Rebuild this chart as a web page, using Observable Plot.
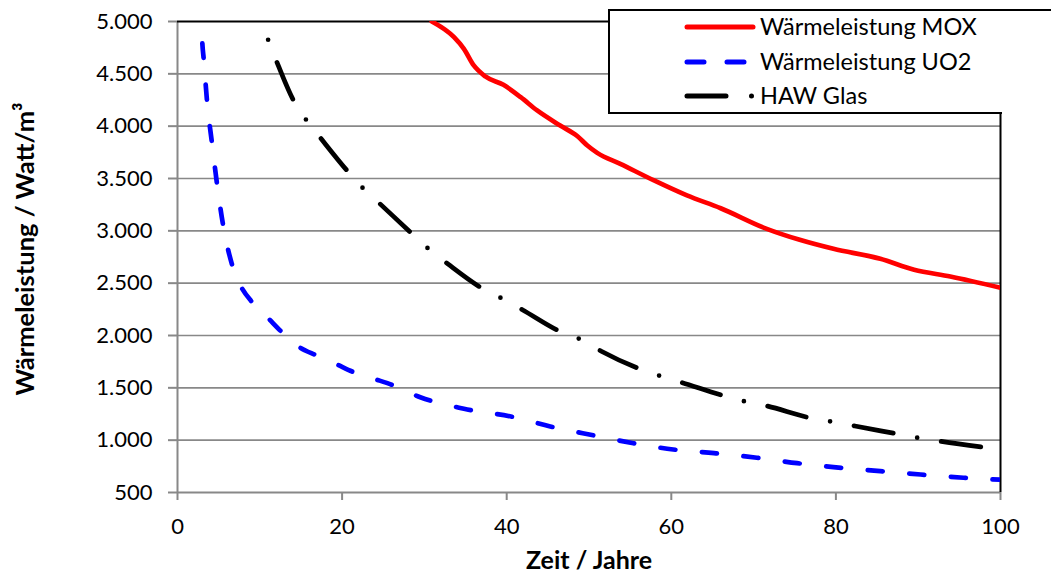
<!DOCTYPE html>
<html>
<head>
<meta charset="utf-8">
<script src="https://cdn.jsdelivr.net/npm/d3@7"></script>
<script src="https://cdn.jsdelivr.net/npm/@observablehq/plot@0.6"></script>
<style>
  html, body { margin: 0; padding: 0; background: #fff; }
  #chart { position: relative; width: 1051px; height: 574px; background: #fff; overflow: hidden; }
  #legend { position: absolute; left: 608px; top: 9px; width: 392px; height: 101px;
            border-left: 2px solid #000; border-top: 2px solid #000; border-bottom: 2px solid #000; background: #fff; }
  #legendTop { position: absolute; left: 1000px; top: 9px; width: 60px; height: 0; border-top: 2px solid #000; }
</style>
</head>
<body>
<div id="chart"></div>
<script>
// ---- Data ----
const serien = ["Wärmeleistung MOX", "Wärmeleistung UO2", "HAW Glas"];
const farben = ["#ff0000", "#0000ff", "#000000"];

const jahreMOX = [30.9, 33.6, 34.8, 36.0, 37.4, 39.6, 41.7, 43.7, 46.5, 48.6, 49.8, 51.0, 53.8, 57.9, 61.9, 66.0, 71.6, 75.6, 79.7, 85.4, 89.5, 93.9, 100];
const wertMOX  = [5000, 4850, 4739, 4580, 4475, 4395, 4277, 4150, 4006, 3904, 3815, 3745, 3640, 3481, 3338, 3216, 3019, 2914, 2828, 2733, 2628, 2564, 2456];

const jahreUO2 = [2.9, 3.0, 3.2, 3.6, 4.2, 4.8, 5.55, 6.6, 7.65, 9.07, 10.9, 12.7, 14.5, 16.9, 19.2, 21.4, 23.9, 26.3, 29.5, 34.8, 40.9, 45.3, 50.6, 55.4, 59.5, 65.2, 70.4, 75.3, 79.7, 85.4, 90.3, 95.5, 100];
const wertUO2  = [5000, 4818, 4627, 4229, 3831, 3449, 3051, 2685, 2478, 2318, 2175, 2031, 1905, 1809, 1730, 1650, 1586, 1522, 1410, 1300, 1220, 1131, 1045, 971, 918, 876, 832, 780, 742, 704, 672, 641, 622];

const jahreHAW = [10.2, 11.0, 12.0, 14.1, 15.6, 17.4, 20.6, 22.5, 24.6, 28.3, 30.6, 32.8, 37.1, 39.5, 41.9, 46.5, 49.1, 51.5, 56.2, 58.8, 61.3, 66.3, 69.0, 71.6, 76.7, 79.5, 82.3, 87.3, 90.1, 92.8, 98.0, 100];
const wertHAW  = [5000, 4828, 4627, 4245, 4064, 3885, 3576, 3411, 3258, 2987, 2821, 2687, 2447, 2351, 2246, 2038, 1958, 1850, 1680, 1610, 1550, 1426, 1369, 1327, 1216, 1177, 1135, 1062, 1021, 988, 932, 912];

const xTicks = [0, 20, 40, 60, 80, 100];
const xTickLabels = ["0", "20", "40", "60", "80", "100"];
const yTicks = [500, 1000, 1500, 2000, 2500, 3000, 3500, 4000, 4500, 5000];
const yTickLabels = ["500", "1.000", "1.500", "2.000", "2.500", "3.000", "3.500", "4.000", "4.500", "5.000"];

const xTitel = "Zeit / Jahre";
const yTitel = "Wärmeleistung / Watt/m³";

// ---- Tables ----
const rows = (xs, ys, s) => xs.map((x, i) => ({serie: s, jahr: x, wert: ys[i]}));
const datMOX = rows(jahreMOX, wertMOX, serien[0]);
const datUO2 = rows(jahreUO2, wertUO2, serien[1]);
const datHAW = rows(jahreHAW, wertHAW, serien[2]);

const grau = "#888888";

const plot = Plot.plot({
  width: 1051,
  height: 574,
  marginLeft: 177,
  marginRight: 51,
  marginTop: 21,
  marginBottom: 82,
  style: {fontFamily: "Lato, sans-serif", fontSize: "22px", color: "#000", background: "#fff"},
  x: {domain: [0, 100]},
  y: {domain: [500, 5000]},
  marks: [
    Plot.ruleY(yTicks.filter(v => v > 500 && v < 5000), {stroke: grau, strokeWidth: 1.6}),
    Plot.ruleX([0], {stroke: grau, strokeWidth: 2}),
    Plot.ruleY([500], {stroke: grau, strokeWidth: 2}),
    Plot.ruleY([5000], {stroke: "#000", strokeWidth: 2}),
    Plot.ruleX([100], {stroke: "#000", strokeWidth: 2}),
    Plot.axisX({ticks: xTicks, tickFormat: d => xTickLabels[xTicks.indexOf(d)], tickSize: 8, tickPadding: 18,
                stroke: grau, strokeWidth: 2, fill: "#000", label: null, fontSize: 22}),
    Plot.axisY({ticks: yTicks, tickFormat: d => yTickLabels[yTicks.indexOf(d)], tickSize: 9, tickPadding: 16,
                stroke: grau, strokeWidth: 2, fill: "#000", label: null, fontSize: 22}),
    Plot.line(datUO2, {x: "jahr", y: "wert", stroke: farben[1], strokeWidth: 4.7, curve: "monotone-x",
                       strokeDasharray: "15,26.7", strokeDashoffset: 20.2, strokeLinecap: "round", clip: true}),
    Plot.line(datHAW, {x: "jahr", y: "wert", stroke: farben[2], strokeWidth: 4.7, curve: "monotone-x",
                       strokeDasharray: "40,24.3,0,24.3", strokeDashoffset: 44.9, strokeLinecap: "round", clip: true}),
    Plot.line(datMOX, {x: "jahr", y: "wert", stroke: farben[0], strokeWidth: 4.7, curve: "monotone-x",
                       strokeLinecap: "round", clip: true}),
    Plot.text([xTitel], {frameAnchor: "bottom", dy: 68, lineAnchor: "middle", textAnchor: "middle",
                         fontWeight: "bold", fontSize: 25, fill: "#000"}),
    Plot.text([yTitel], {frameAnchor: "left", dx: -152, dy: -8, rotate: -90, lineAnchor: "middle", textAnchor: "middle",
                         fontWeight: "bold", fontSize: 25.5, fill: "#000"})
  ]
});

const chart = document.getElementById("chart");
chart.appendChild(plot);

// ---- Legend ----
const leg = document.createElement("div");
leg.id = "legend";
chart.appendChild(leg);
const legTop = document.createElement("div");
legTop.id = "legendTop";
chart.appendChild(legTop);

const lsvg = d3.select(leg).append("svg")
  .attr("width", 392).attr("height", 101)
  .style("position", "absolute").style("left", "0px").style("top", "0px")
  .style("font-family", "Lato, sans-serif").style("font-size", "23.5px");

const legY = [16, 51, 85];
const dashes = [null, "17,23", "39,25.5,0,100"];
serien.forEach((s, i) => {
  const g = lsvg.append("g");
  g.append("line").attr("x1", 77).attr("x2", i === 2 ? 142 : 143).attr("y1", legY[i]).attr("y2", legY[i])
    .attr("stroke", farben[i]).attr("stroke-width", 5).attr("stroke-linecap", "round")
    .attr("stroke-dasharray", dashes[i]);
  g.append("text").attr("x", 150).attr("y", legY[i]).attr("dy", "0.36em").attr("fill", "#000").text(s);
});
</script>
</body>
</html>
